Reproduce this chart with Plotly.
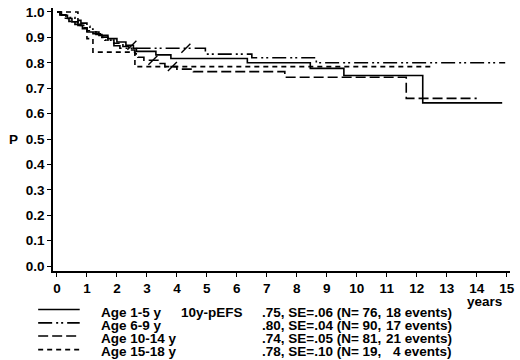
import plotly.graph_objects as go

# ---------------- data ----------------
groups = ["Age 1-5 y", "Age 6-9 y", "Age 10-14 y", "Age 15-18 y"]
pefs = [".75, SE=.06 (N= 76,", ".80, SE=.04 (N= 90,", ".74, SE=.05 (N= 81,", ".78, SE=.10 (N= 19,"]
events = ["18 events)", "17 events)", "21 events)", "4 events)"]

t_1_5 = [0, 0.15, 0.35, 0.5, 0.7, 0.85, 1.0, 1.4, 1.7, 2.0, 2.3, 2.55, 2.65, 3.3, 3.8, 6.35, 8.45, 9.57, 12.2, 14.85]
s_1_5 = [1.0, 0.987, 0.974, 0.961, 0.947, 0.934, 0.921, 0.908, 0.895, 0.882, 0.869, 0.857, 0.845, 0.831, 0.817, 0.80, 0.778, 0.75, 0.642, 0.642]

t_6_9 = [0, 0.1, 0.3, 0.6, 0.8, 1.0, 1.1, 1.2, 1.3, 1.5, 1.6, 1.8, 1.9, 2.1, 4.95, 6.5, 8.65, 14.95]
s_6_9 = [1.0, 0.989, 0.978, 0.967, 0.956, 0.944, 0.933, 0.922, 0.911, 0.9, 0.889, 0.878, 0.867, 0.857, 0.834, 0.82, 0.80, 0.80]

t_10_14 = [0, 0.1, 0.25, 0.4, 0.6, 0.8, 1.0, 1.2, 1.5, 1.7, 1.9, 2.2, 2.4, 2.6, 2.7, 2.9, 3.4, 3.6, 4.0, 4.55, 7.6, 11.65, 14.0]
s_10_14 = [1.0, 0.988, 0.975, 0.963, 0.951, 0.938, 0.926, 0.914, 0.901, 0.889, 0.877, 0.864, 0.85, 0.835, 0.822, 0.81, 0.797, 0.785, 0.775, 0.765, 0.743, 0.66, 0.66]

t_15_18 = [0, 0.7, 1.0, 1.2, 2.6, 12.5]
s_15_18 = [1.0, 0.947, 0.895, 0.842, 0.785, 0.785]

# censor marks
cens_t = [[2.5], [4.3], [3.2, 3.85], []]
cens_s = [[0.869], [0.857], [0.81, 0.785], []]

x_ticks = list(range(0, 16))
y_ticks = [round(i / 10, 1) for i in range(0, 11)]

# ---------------- styling ----------------
dashes = ["solid", "14px,4px,2px,3px,2px,4px", "10px,4px", "5px,4px"]
FONT = "Liberation Sans, Arial, sans-serif"
FS = 13.5

fig = go.Figure()
series = [(t_1_5, s_1_5), (t_6_9, s_6_9), (t_10_14, s_10_14), (t_15_18, s_15_18)]
for i, (t, s) in enumerate(series):
    fig.add_trace(go.Scatter(x=t, y=s, mode="lines", line_shape="hv",
                             line=dict(color="black", width=1.6, dash=dashes[i]),
                             name=groups[i], showlegend=False, hoverinfo="skip"))
    if cens_t[i]:
        fig.add_trace(go.Scatter(x=cens_t[i], y=cens_s[i], mode="markers",
                                 marker=dict(symbol="line-ne", size=9,
                                             line=dict(color="black", width=1.4)),
                                 showlegend=False, hoverinfo="skip"))

# plot area in pixels
L, R, T, B = 53, 515, 5, 271
W, H = R - L, B - T


def px(x):
    return (x - L) / W


def py(y):
    return (B - y) / H


shapes = []
annots = []
row_text_y = [312.5, 326, 339.3, 352.7]
row_line_y = [310, 323.5, 336.8, 350.5]
for i in range(4):
    shapes.append(dict(type="line", xref="paper", yref="paper",
                       x0=px(38), x1=px(80), y0=py(row_line_y[i]), y1=py(row_line_y[i]),
                       line=dict(color="black", width=1.6, dash=dashes[i])))
    annots.append(dict(xref="paper", yref="paper", x=px(100), y=py(row_text_y[i]),
                       xanchor="left", yanchor="middle", showarrow=False,
                       text="<b>%s</b>" % groups[i]))
    annots.append(dict(xref="paper", yref="paper", x=px(262), y=py(row_text_y[i]),
                       xanchor="left", yanchor="middle", showarrow=False,
                       text="<b>%s</b>" % pefs[i]))
    annots.append(dict(xref="paper", yref="paper", x=px(458), y=py(row_text_y[i]),
                       xanchor="right", yanchor="middle", showarrow=False,
                       text="<b>%s</b>" % events[i]))
annots.append(dict(xref="paper", yref="paper", x=px(180), y=py(row_text_y[0]),
                   xanchor="left", yanchor="middle", showarrow=False,
                   text="<b>10y-pEFS</b>"))
annots.append(dict(xref="paper", yref="paper", x=px(489), y=py(302),
                   xanchor="center", yanchor="middle", showarrow=False,
                   text="<b>years</b>"))
annots.append(dict(xref="paper", yref="paper", x=px(13), y=py(138),
                   xanchor="center", yanchor="middle", showarrow=False,
                   text="<b>P</b>"))

x0 = (L - 57) / 30.31
x1 = (R - 57) / 30.31
y0 = (266 - B) / 257
y1 = (266 - T) / 257

fig.update_layout(
    width=520, height=360,
    margin=dict(l=L, r=520 - R, t=T, b=360 - B),
    paper_bgcolor="white", plot_bgcolor="white",
    font=dict(family=FONT, size=FS, color="black"),
    showlegend=False,
    shapes=shapes, annotations=annots,
    xaxis=dict(range=[x0, x1], tickvals=x_ticks, ticktext=[str(v) for v in x_ticks],
               showgrid=False, zeroline=False, showline=True, linecolor="black",
               linewidth=1.5, ticks="outside", ticklen=4, tickwidth=1.3, tickcolor="black",
               tickfont=dict(family=FONT, size=FS, weight="bold")),
    yaxis=dict(range=[y0, y1], tickvals=y_ticks, ticktext=["%.1f" % v for v in y_ticks],
               showgrid=False, zeroline=False, showline=True, linecolor="black",
               linewidth=1.5, ticks="outside", ticklen=4, tickwidth=1.3, tickcolor="black",
               tickfont=dict(family=FONT, size=FS, weight="bold")),
)

fig.write_html("out.html", config={"displayModeBar": False},
               post_script="document.body.style.margin='0';document.body.style.padding='0';")
